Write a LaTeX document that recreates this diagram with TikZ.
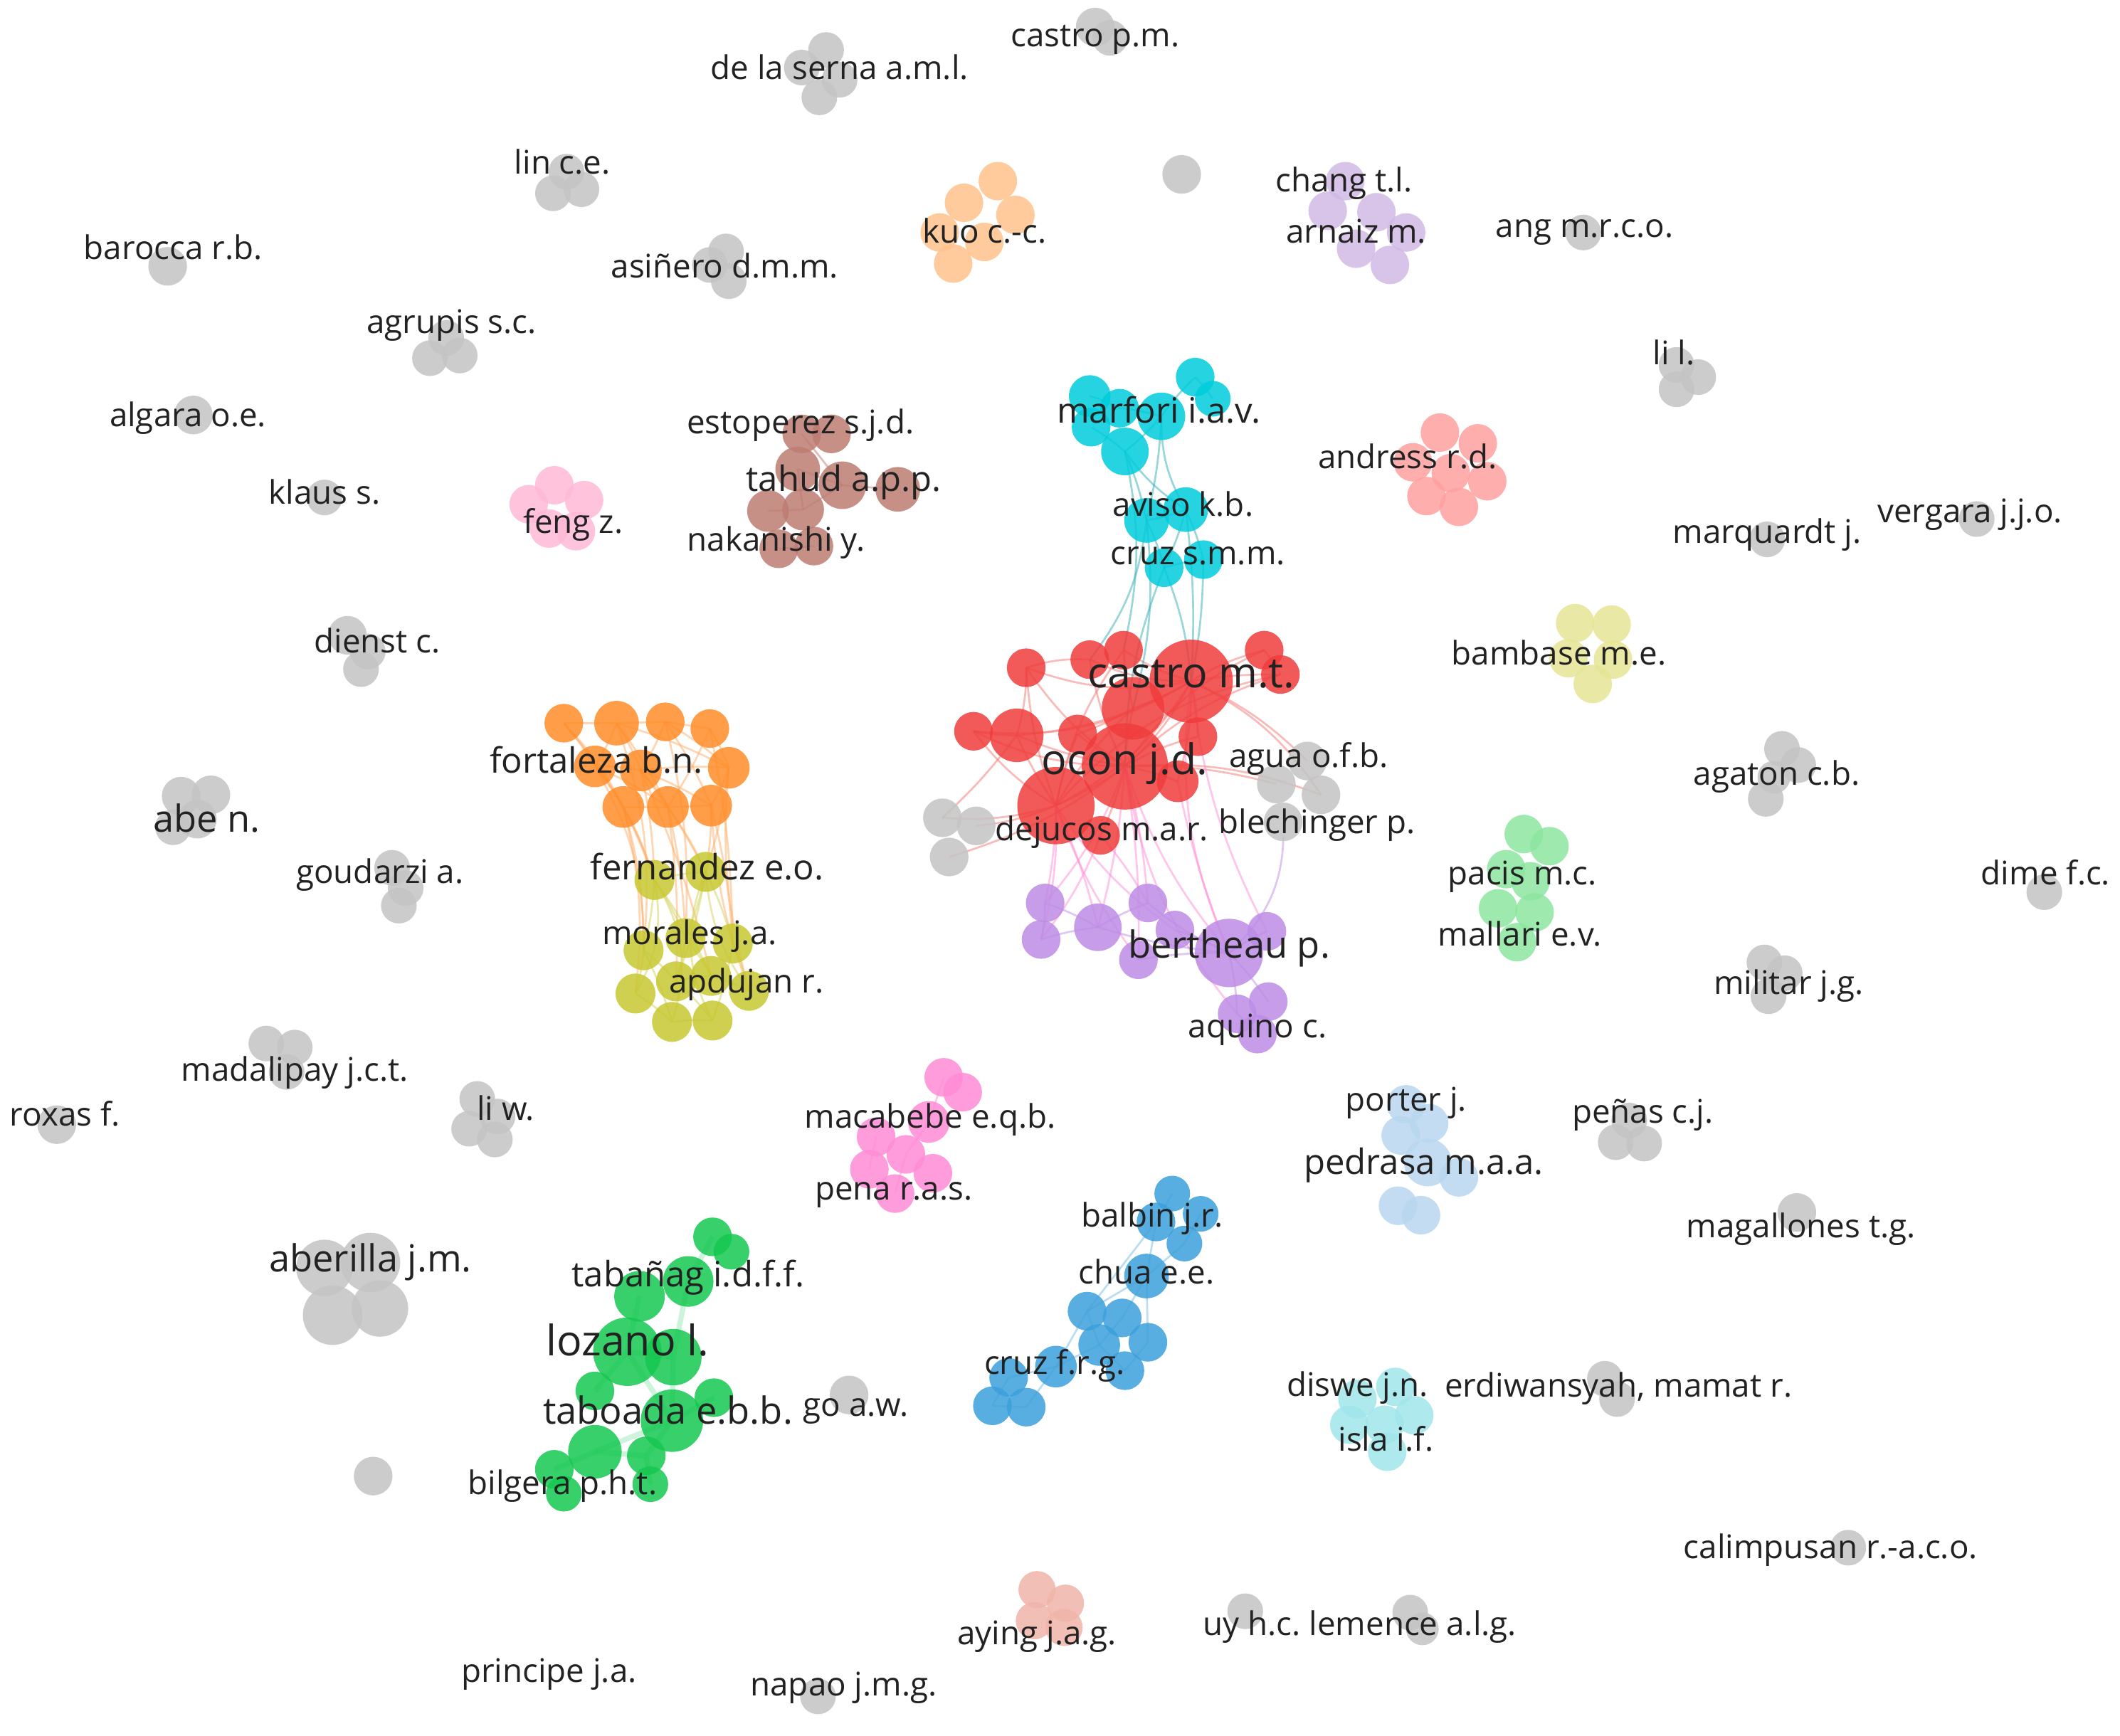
\documentclass[tikz,border=0pt]{standalone}
\usepackage{fontspec}
\setmainfont{Open Sans}
\usetikzlibrary{backgrounds}
\definecolor{redc}{HTML}{F03C3C}
\definecolor{cyanc}{HTML}{00CDDC}
\definecolor{purc}{HTML}{BE8CE6}
\definecolor{orangec}{HTML}{FF8C28}
\definecolor{olivec}{HTML}{C8C832}
\definecolor{greenc}{HTML}{14C850}
\definecolor{bluec}{HTML}{3CA0DC}
\definecolor{brownc}{HTML}{BE7D73}
\definecolor{fengc}{HTML}{FFB9D7}
\definecolor{magc}{HTML}{FF8CD7}
\definecolor{kuoc}{HTML}{FFC38C}
\definecolor{arnc}{HTML}{D2B9E6}
\definecolor{andc}{HTML}{FFA0A0}
\definecolor{bamc}{HTML}{E6E696}
\definecolor{pacc}{HTML}{8CE6A0}
\definecolor{pedc}{HTML}{B9D7F0}
\definecolor{disc}{HTML}{A0E6EB}
\definecolor{ayc}{HTML}{F0B4AA}
\definecolor{greyc}{HTML}{C4C4C4}
\definecolor{txtc}{HTML}{222222}
\tikzset{
  dot/.style={circle, inner sep=0pt, draw=none, fill opacity=0.85},
  lbl/.style={anchor=mid, inner sep=0pt, text=txtc, font=\fontsize{13.7}{16}\selectfont},
  lblm/.style={lbl, font=\fontsize{14.7}{17}\selectfont},
  lbll/.style={lbl, font=\fontsize{15.7}{18}\selectfont},
  lblx/.style={lbl, font=\fontsize{17.7}{20}\selectfont},
  edge/.style={line width=0.8pt, draw opacity=0.5},
  redge/.style={edge, draw=redc!70},
  pedge/.style={edge, draw=magc},
  cedge/.style={edge, draw=cyanc!60!gray},
  oedge/.style={edge, draw=orangec!70},
  yedge/.style={edge, draw=olivec!80},
  gedge/.style={edge, draw=greenc!60, line width=2.2pt, draw opacity=0.35},
  bedge/.style={edge, draw=bluec!70},
  vedge/.style={edge, draw=purc},
}
\begin{document}
\begin{tikzpicture}[x=0.02cm, y=-0.02cm]
\useasboundingbox (0,0) rectangle (1568,1284);
% ---------------- grey nodes
\foreach \nm/\x/\y/\r in {gcpa/810/20/13, gcpb/821/28/12,
  gdsa/611/37/12, gdsb/593/50/12, gdsc/621/59/12, gdsd/606/72/12,
  gla/419/127/12, glb/430/140/12, glc/409/143/12,
  gba/124/197/13,
  gaa/537/186/12, gab/525/196/12, gac/539/208/12,
  ggra/330/250/12, ggrb/318/265/12, ggrc/340/263/12,
  gala/143/307/13, gka/240/368/12,
  gdia/257/470/13, gdib/272/482/12, gdic/267/495/12,
  gabea/134/589/13, gabeb/156/588/13, gabec/146/606/13, gabed/128/612/12,
  ggoa/290/642/12, ggob/300/657/12, ggoc/295/670/12,
  gmaa/197/772/12, gmab/218/775/12, gmac/212/793/12,
  groa/42/832/13,
  glwa/353/813/12, glwb/347/835/12, glwc/366/843/12, glwd/368/826/12,
  gbea/240/938/19, gbeb/274/934/20, gbec/246/973/20, gbed/281/968/19,
  gsa/276/1092/13, ggwa/628/1032/13, gna/605/1255/12,
  gua/921/1192/12, glea/1043/1193/12, gleb/1052/1205/11,
  gcaa/1367/1145/12, gea/1187/1020/12, geb/1196/1035/12,
  gmga/1329/897/13,
  gpna/1205/829/12, gpnb/1195/845/12, gpnc/1216/846/12,
  gmia/1305/712/12, gmib/1320/720/12, gmic/1308/737/12,
  gdma/1512/660/12,
  gata/1318/554/12, gatb/1330/566/12, gatc/1306/591/12, gatd/1312/575/11,
  gva/1462/384/12, gmqa/1307/399/12,
  glla/1240/270/12, gllb/1256/279/12, gllc/1240/288/12,
  gana/1171/172/12, gsb/874/129/13,
  A1/967/563/13, A2/944/580/13, A3/977/588/13, A4/949/608/13,
  L1/697/605/13, L2/722/611/13, L3/702/634/13}
  \node[dot, fill=greyc, minimum size=\r*0.44mm] (\nm) at (\x,\y) {};
% ---------------- small coloured clusters
\foreach \nm/\x/\y in {ka/738/134, kb/713/150, kc/751/159, kd/695/172, ke/728/179, kf/705/195}
  \node[dot, fill=kuoc, minimum size=5.7mm] (\nm) at (\x,\y) {};
\foreach \nm/\x/\y in {ara/995/134, arb/982/156, arc/1018/157, ard/1040/172, are/1003/184, arf/1028/196}
  \node[dot, fill=arnc, minimum size=5.7mm] (\nm) at (\x,\y) {};
\foreach \nm/\x/\y in {fa/410/359, fb/391/373, fc/432/370, fd/406/391, fe/426/393}
  \node[dot, fill=fengc, minimum size=5.7mm] (\nm) at (\x,\y) {};
\foreach \nm/\x/\y in {ana/1065/320, anb/1093/328, anc/1045/342, and/1073/350, ane/1100/356, anf/1055/367, ang/1079/375}
  \node[dot, fill=andc, minimum size=5.7mm] (\nm) at (\x,\y) {};
\foreach \nm/\x/\y in {bma/1165/461, bmb/1192/462, bmc/1160/487, bmd/1193/488, bme/1178/506}
  \node[dot, fill=bamc, minimum size=5.7mm] (\nm) at (\x,\y) {};
\foreach \nm/\x/\y in {pca/1127/617, pcb/1146/626, pcc/1114/643, pcd/1132/652, pce/1108/672, pcf/1135/675, pcg/1122/697}
  \node[dot, fill=pacc, minimum size=5.7mm] (\nm) at (\x,\y) {};
\foreach \nm/\x/\y/\r in {pda/1040/817/13, pdb/1057/831/13, pdc/1036/840/13, pdd/1056/860/16, pde/1079/871/13, pdf/1034/892/13, pdg/1051/899/13}
  \node[dot, fill=pedc, minimum size=\r*0.44mm] (\nm) at (\x,\y) {};
\foreach \nm/\x/\y in {dsa/1032/1026, dsb/1004/1035, dsc/1046/1047, dsd/998/1054, dse/1024/1054, dsf/1026/1074}
  \node[dot, fill=disc, minimum size=5.7mm] (\nm) at (\x,\y) {};
\foreach \nm/\x/\y/\r in {mca/698/797/13, mcb/712/808/13, mcc/687/830/14, mcd/648/841/13, mce/670/854/13, mcf/643/865/13, mcg/690/868/13, mch/662/883/13}
  \node[dot, fill=magc, minimum size=\r*0.44mm] (\nm) at (\x,\y) {};
\foreach \nm/\x/\y in {aya/767/1176, ayb/788/1186, ayc/765/1199, ayd/787/1204}
  \node[dot, fill=ayc, minimum size=5.5mm] (\nm) at (\x,\y) {};
% ---------------- brown
\foreach \nm/\x/\y/\r in {BRa/593/321/13, BRb/615/321/13, BRc/590/347/15, BRd/623/359/16, BRe/664/362/15, BRf/568/378/14, BRg/594/377/14, BRh/576/406/13, BRi/602/404/13}
  \node[dot, fill=brownc, minimum size=\r*0.44mm] (\nm) at (\x,\y) {};
% ---------------- cyan
\foreach \nm/\x/\y/\r in {C1/806/293/14, C2/828/302/13, C3/859/308/16, C4/884/279/13, C5/897/295/12, C6/807/316/13, C7/832/334/16, C8/877/377/15, C9/848/385/15, C10/861/420/13, C11/890/414/13}
  \node[dot, fill=cyanc, minimum size=\r*0.44mm] (\nm) at (\x,\y) {};
% ---------------- red
\foreach \nm/\x/\y/\r in {R1/759/494/13, R2/806/488/13, R3/831/481/13, R5/935/481/13, R6/947/499/13, R7/720/541/13, R8/752/544/18, R9/797/543/13, R10/838/524/21, R11/886/545/13, R13/871/578/14, R15/814/618/13, R4/881/504/28, R12/832/567/29, R14/781/596/26}
  \node[dot, fill=redc, minimum size=\r*0.44mm] (\nm) at (\x,\y) {};
% ---------------- purple
\foreach \nm/\x/\y/\r in {P1/773/668/13, P2/770/695/13, P3/812/686/16, P4/849/668/13, P5/869/688/13, P6/842/710/13, P7/909/705/23, P8/937/689/13, P9/915/750/13, P10/938/741/13, P11/930/765/13}
  \node[dot, fill=purc, minimum size=\r*0.44mm] (\nm) at (\x,\y) {};
% ---------------- orange
\foreach \nm/\x/\y/\r in {O1/417/535/13, O2/456/535/15, O3/492/534/13, O4/525/539/13, O5/440/567/14, O6/474/570/14, O7/539/568/14, O8/461/597/14, O9/494/597/14, O10/526/596/14}
  \node[dot, fill=orangec, minimum size=\r*0.44mm] (\nm) at (\x,\y) {};
% ---------------- olive
\foreach \nm/\x/\y in {Y1/484/651, Y2/522/645, Y3/476/703, Y4/507/694, Y5/542/698, Y6/470/735, Y7/500/726, Y8/526/722, Y9/554/733, Y10/497/756, Y11/527/755}
  \node[dot, fill=olivec, minimum size=5.9mm] (\nm) at (\x,\y) {};
% ---------------- green
\foreach \nm/\x/\y/\r in {G1/527/915/13, G2/541/926/12, G3/509/948/17, G4/473/959/17, G5/464/1000/23, G6/498/1004/19, G7/440/1029/13, G8/528/1034/13, G9/497/1051/21, G10/440/1074/18, G11/478/1077/13, G12/410/1087/13, G13/481/1098/12, G14/417/1105/12}
  \node[dot, fill=greenc, minimum size=\r*0.44mm] (\nm) at (\x,\y) {};
% ---------------- blue
\foreach \nm/\x/\y/\r in {B1/867/883/12, B2/888/898/12, B3/855/904/13, B4/876/920/12, B5/848/944/15, B6/804/970/13, B7/830/975/13, B8/849/993/13, B9/813/995/14, B10/781/1011/14, B11/832/1014/13, B12/746/1019/13, B13/734/1040/13, B14/759/1041/13}
  \node[dot, fill=bluec, minimum size=\r*0.44mm] (\nm) at (\x,\y) {};
% ---------------- edges
\begin{scope}[on background layer]
\fill[white] (0,0) rectangle (1568,1284);
\foreach \a/\b/\bd in {R4/R12/10, R4/R14/15, R4/R10/5, R4/R3/8, R4/R2/12, R4/R1/15, R4/R5/8, R4/R6/5, R4/R7/18, R4/R8/12, R4/R11/5, R4/R13/8,
  R12/R1/10, R12/R2/8, R12/R7/12, R12/R8/6, R12/R9/5, R12/R10/5, R12/R11/8, R12/R13/5, R12/R14/5, R12/R15/5, R12/R5/15, R12/R6/12,
  R14/R1/8, R14/R7/10, R14/R8/5, R14/R9/5, R14/R10/8, R14/R3/12, R14/R6/18, R1/R2/10, R1/R8/8, R8/R7/5, R10/R3/5, R10/R9/5, R5/R6/5,
  R12/A2/8, R12/A3/12, R4/A1/10, R4/A3/15, R14/L1/10, R14/L2/8, R12/L3/10, R8/L1/5}
  \draw[redge] (\a.center) to[bend left=\bd] (\b.center);
\foreach \a/\b/\bd in {R12/P1/10, R12/P3/5, R12/P4/5, R12/P7/-10, R14/P1/5, R14/P2/8, R14/P3/5, R14/P6/-8, R4/P7/-15, R13/P7/-5, R15/P4/5, R12/P9/-15, R14/P5/-10, R4/P8/-10, R12/P6/5, R15/P2/8}
  \draw[pedge] (\a.center) to[bend left=\bd] (\b.center);
\foreach \a/\b/\bd in {P1/P2/5, P3/P7/-5, P4/P7/-8, P5/P7/5, P6/P7/5, P7/P8/5, P7/P9/5, P7/P10/5, P9/P11/5, P3/P4/5, P2/P3/5, P1/P3/5, P7/A4/-25}
  \draw[vedge] (\a.center) to[bend left=\bd] (\b.center);
\foreach \a/\b/\bd in {C7/R3/12, C9/R10/10, C10/R4/8, C11/R4/5, C8/R4/5, C3/C8/-15, C7/C8/-10, C7/C9/5, C9/R2/15, C10/R12/-10, C1/C2/5, C3/C4/5, C3/C7/5, C6/C7/5, C8/C9/5, C8/C10/5, C8/C11/5, C9/C10/5, C10/C11/5, C3/C9/5, C4/C5/5, C2/C3/5}
  \draw[cedge] (\a.center) to[bend left=\bd] (\b.center);
\foreach \a/\b/\bd in {O1/O2/0, O2/O3/0, O3/O4/0, O1/O5/5, O2/O5/5, O2/O6/5, O3/O6/5, O3/O7/5, O4/O7/5, O5/O6/5, O6/O7/5, O5/O8/5, O6/O9/5, O7/O10/5, O8/O9/0, O9/O10/0, O2/O9/5, O3/O10/5, O4/O9/5, O5/O9/5, O6/O10/5, O2/O7/5, O1/O8/8,
  O5/Y1/10, O5/Y3/15, O6/Y1/5, O6/Y2/5, O8/Y1/5, O8/Y3/8, O9/Y2/5, O9/Y4/5, O10/Y2/5, O10/Y5/5, O7/Y2/5, O1/Y1/10, O2/Y3/12, O3/Y4/8, O4/Y5/5, O8/Y6/10, O10/Y9/-8, O7/Y9/-10, O9/Y7/5, O6/Y8/5}
  \draw[oedge] (\a.center) to[bend left=\bd] (\b.center);
\foreach \a/\b/\bd in {Y1/Y2/5, Y1/Y3/5, Y1/Y4/5, Y2/Y5/5, Y2/Y4/5, Y3/Y6/5, Y4/Y7/5, Y5/Y9/5, Y6/Y10/5, Y7/Y11/5, Y1/Y10/25, Y2/Y11/-25, Y3/Y7/5, Y4/Y8/5, Y7/Y8/5, Y8/Y9/5, Y10/Y11/5, Y1/Y6/20, Y2/Y9/-15, Y1/Y8/5, Y2/Y7/5, Y3/Y10/5, Y5/Y11/5}
  \draw[yedge] (\a.center) to[bend left=\bd] (\b.center);
\foreach \a/\b in {G3/G6, G5/G9, G4/G5, G9/G10, G10/G11, G8/G9, G6/G9, G1/G3, G5/G6, G10/G12, G11/G13, G7/G5, G9/G11}
  \draw[gedge] (\a.center) -- (\b.center);
\foreach \a/\b in {B1/B3, B2/B4, B3/B5, B4/B5, B5/B6, B5/B7, B5/B8, B6/B10, B7/B9, B9/B10, B10/B12, B12/B13, B13/B14, B8/B11, B9/B11, B6/B9, B10/B14, B3/B6}
  \draw[bedge] (\a.center) -- (\b.center);
\foreach \a/\b in {BRa/BRd, BRc/BRd, BRd/BRe, BRf/BRg, BRg/BRd, BRh/BRi, BRc/BRg}
  \draw[edge, draw=brownc] (\a.center) -- (\b.center);
\foreach \a/\b in {mca/mcc, mcc/mce, mce/mch, mcd/mcf}
  \draw[edge, draw=magc] (\a.center) -- (\b.center);
\end{scope}
% ---------------- labels
\node[lbl] (tcastropm) at (810,30) {castro p.m.};
\node[lbl] (tdelaserna) at (621,54) {de la serna a.m.l.};
\node[lbl] (tlin) at (416,124) {lin c.e.};
\node[lbl] (tbarocca) at (128,187) {barocca r.b.};
\node[lbl] (tasinero) at (536,201) {asiñero d.m.m.};
\node[lbl] (tagrupis) at (334,242) {agrupis s.c.};
\node[lbl] (talgara) at (139,311) {algara o.e.};
\node[lbl] (tklaus) at (240,368) {klaus s.};
\node[lbl] (tdienst) at (279,478) {dienst c.};
\node[lbll] (tabe) at (153,611) {abe n.};
\node[lbl] (tgoudarzi) at (281,649) {goudarzi a.};
\node[lbl] (tmadalipay) at (218,795) {madalipay j.c.t.};
\node[lbl] (troxas) at (48,828) {roxas f.};
\node[lbl] (tliw) at (374,824) {li w.};
\node[lbll] (taberilla) at (274,936) {aberilla j.m.};
\node[lblm] (ttabanag) at (509,947) {tabañag i.d.f.f.};
\node[lblx] (tlozano) at (464,998) {lozano l.};
\node[lbll] (ttaboada) at (494,1049) {taboada e.b.b.};
\node[lbl] (tbilgera) at (416,1101) {bilgera p.h.t.};
\node[lbl] (tgo) at (633,1043) {go a.w.};
\node[lbl] (tprincipe) at (406,1240) {principe j.a.};
\node[lbl] (tnapao) at (624,1250) {napao j.m.g.};
\node[lbl] (taying) at (767,1212) {aying j.a.g.};
\node[lbl] (tuy) at (926,1205) {uy h.c.};
\node[lbl] (tlemence) at (1045,1205) {lemence a.l.g.};
\node[lbl] (tcalimpusan) at (1354,1148) {calimpusan r.-a.c.o.};
\node[lbl] (terdiwansyah) at (1197,1029) {erdiwansyah, mamat r.};
\node[lbl] (tdiswe) at (1004,1028) {diswe j.n.};
\node[lbl] (tisla) at (1025,1069) {isla i.f.};
\node[lbl] (tmagallones) at (1332,911) {magallones t.g.};
\node[lbl] (tpenas) at (1215,826) {peñas c.j.};
\node[lbl] (tporter) at (1040,817) {porter j.};
\node[lblm] (tpedrasa) at (1053,864) {pedrasa m.a.a.};
\node[lbl] (tbalbin) at (852,903) {balbin j.r.};
\node[lbl] (tchua) at (848,945) {chua e.e.};
\node[lbl] (tcruzfrg) at (780,1012) {cruz f.r.g.};
\node[lbl] (tmacabebe) at (688,830) {macabebe e.q.b.};
\node[lbl] (tpena) at (661,883) {pena r.a.s.};
\node[lbl] (tmilitar) at (1323,731) {militar j.g.};
\node[lbl] (tdime) at (1513,650) {dime f.c.};
\node[lbl] (tagaton) at (1314,576) {agaton c.b.};
\node[lbl] (tpacis) at (1126,650) {pacis m.c.};
\node[lbl] (tmallari) at (1124,695) {mallari e.v.};
\node[lbl] (tbambase) at (1153,487) {bambase m.e.};
\node[lbl] (tvergara) at (1457,382) {vergara j.j.o.};
\node[lbl] (tmarquardt) at (1307,397) {marquardt j.};
\node[lbl] (tlil) at (1238,265) {li l.};
\node[lbl] (tang) at (1172,171) {ang m.r.c.o.};
\node[lbl] (tchang) at (994,137) {chang t.l.};
\node[lbl] (tarnaiz) at (1003,175) {arnaiz m.};
\node[lbl] (tkuo) at (728,175) {kuo c.-c.};
\node[lbl] (tandress) at (1041,342) {andress r.d.};
\node[lblm] (tmarfori) at (857,308) {marfori i.a.v.};
\node[lbl] (taviso) at (875,377) {aviso k.b.};
\node[lbl] (tcruzsmm) at (886,413) {cruz s.m.m.};
\node[lbl] (testoperez) at (592,316) {estoperez s.j.d.};
\node[lblm] (ttahud) at (624,359) {tahud a.p.p.};
\node[lbl] (tnakanishi) at (574,403) {nakanishi y.};
\node[lbl] (tfeng) at (424,390) {feng z.};
\node[lblm] (tfortaleza) at (441,567) {fortaleza b.n.};
\node[lblm] (tfernandez) at (523,646) {fernandez e.o.};
\node[lbl] (tmorales) at (510,694) {morales j.a.};
\node[lbl] (tapdujan) at (552,730) {apdujan r.};
\node[lblx] (tcastromt) at (881,504) {castro m.t.};
\node[lblx] (tocon) at (832,568) {ocon j.d.};
\node[lbl] (tdejucos) at (815,617) {dejucos m.a.r.};
\node[lbl] (tagua) at (968,563) {agua o.f.b.};
\node[lbl] (tblechinger) at (974,612) {blechinger p.};
\node[lbll] (tbertheau) at (909,704) {bertheau p.};
\node[lbl] (taquino) at (930,763) {aquino c.};
\end{tikzpicture}
\end{document}
